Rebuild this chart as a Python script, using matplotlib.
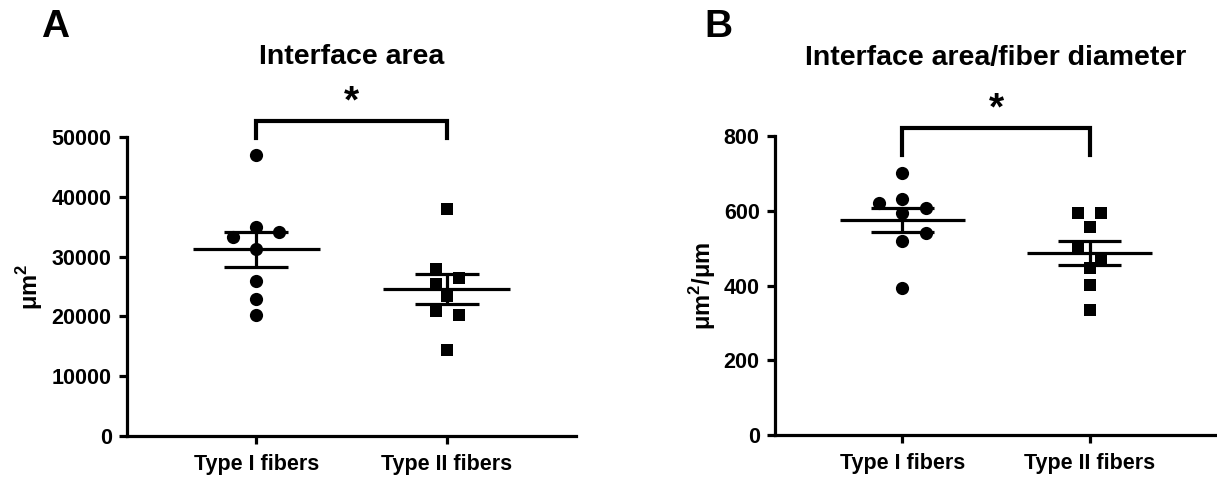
import numpy as np
import matplotlib
matplotlib.use("Agg")
import matplotlib.pyplot as plt

plt.rcParams["font.family"] = ["Liberation Sans", "DejaVu Sans"]
plt.rcParams["font.weight"] = "bold"
plt.rcParams["mathtext.fontset"] = "custom"
plt.rcParams["mathtext.bf"] = "Liberation Sans:bold"
plt.rcParams["mathtext.rm"] = "Liberation Sans:bold"

# group labels
groups = ["Type I fibers", "Type II fibers"]

# panel A: interface area (um^2)
area_type1 = [47000, 34900, 33230, 34060, 31270, 25970, 22910, 20230]
area_type2 = [38000, 27930, 26370, 25420, 23460, 20960, 20230, 14380]

# panel B: interface area / fiber diameter (um^2/um)
ratio_type1 = [700, 632, 620, 607, 594, 540, 520, 393]
ratio_type2 = [594, 594, 556, 502, 469, 447, 402, 334]

# horizontal scatter offsets (GraphPad style spreading of overlapping points)
jit_a1 = [0, 0, -0.125, 0.12, 0, 0, 0, 0]
jit_a2 = [0, -0.058, 0.065, -0.058, 0, -0.058, 0.065, 0]
jit_b1 = [0, 0, -0.123, 0.127, 0, 0.127, 0, 0]
jit_b2 = [-0.06, 0.06, 0, -0.06, 0.06, 0, 0, 0]

W, H = 1217, 479
fig = plt.figure(figsize=(W / 100, H / 100), dpi=100)

LW = 2.3


def panel(ax, d1, d2, j1, j2, ymax, yticks, ylabel, ylab_x, title, title_y,
          bracket_y, leg_y, star_y):
    for i, (vals, jit, mk, ms) in enumerate([(d1, j1, "o", 9.5), (d2, j2, "s", 8.5)]):
        vals = np.asarray(vals, dtype=float)
        ax.plot(i + np.asarray(jit), vals, mk, color="black", ms=ms, mew=0, zorder=3,
                clip_on=False)
        m = vals.mean()
        sem = vals.std(ddof=1) / np.sqrt(len(vals))
        ax.hlines(m, i - 0.335, i + 0.335, color="black", lw=LW, zorder=4)
        ax.hlines([m - sem, m + sem], i - 0.168, i + 0.168, color="black", lw=LW, zorder=4)
        ax.vlines(i, m - sem, m + sem, color="black", lw=LW, zorder=4)

    ax.set_xlim(-0.68, 1.68)
    ax.set_ylim(0, ymax)
    ax.set_yticks(yticks)
    ax.set_xticks([0, 1])
    ax.set_xticklabels(groups, fontsize=15.5, fontweight="bold")
    for lab in ax.get_yticklabels():
        lab.set_fontsize(15.5)
        lab.set_fontweight("bold")
    ax.spines["top"].set_visible(False)
    ax.spines["right"].set_visible(False)
    for s in ("left", "bottom"):
        ax.spines[s].set_linewidth(LW)
        ax.spines[s].set_capstyle("projecting")
    ax.tick_params(width=LW, length=6, pad=5)
    ax.tick_params(axis="x", pad=7)
    ax.set_ylabel(ylabel, fontsize=17, fontweight="bold")
    ax.yaxis.set_label_coords(ylab_x, 0.5)

    # significance bracket
    ax.plot([0, 0, 1, 1], [leg_y, bracket_y, bracket_y, leg_y], color="black",
            lw=3, clip_on=False, solid_joinstyle="miter")
    ax.text(0.5, star_y, "*", ha="center", va="center", fontsize=28, fontweight="bold",
            clip_on=False)
    ax.text(0.5, title_y, title, ha="center", va="center", fontsize=20.5,
            fontweight="bold", transform=ax.get_xaxis_transform())


ax_a = fig.add_axes([127 / W, 1 - 436 / H, 449 / W, 299 / H])
panel(ax_a, area_type1, area_type2, jit_a1, jit_a2, 50000,
      [0, 10000, 20000, 30000, 40000, 50000], r"μm$^{\mathbf{2}}$", -0.183,
      "Interface area", 1.268, 52700, 49800, 55800)

ax_b = fig.add_axes([775 / W, 1 - 435 / H, 442 / W, 299 / H])
panel(ax_b, ratio_type1, ratio_type2, jit_b1, jit_b2, 800,
      [0, 200, 400, 600, 800], r"μm$^{\mathbf{2}}$/μm", -0.129,
      "Interface area/fiber diameter", 1.261, 822, 750, 872)

fig.text(41 / W, 1 - 27 / H, "A", fontsize=28, fontweight="bold", va="center")
fig.text(704 / W, 1 - 27 / H, "B", fontsize=28, fontweight="bold", va="center")

fig.savefig("out.png", dpi=100)
